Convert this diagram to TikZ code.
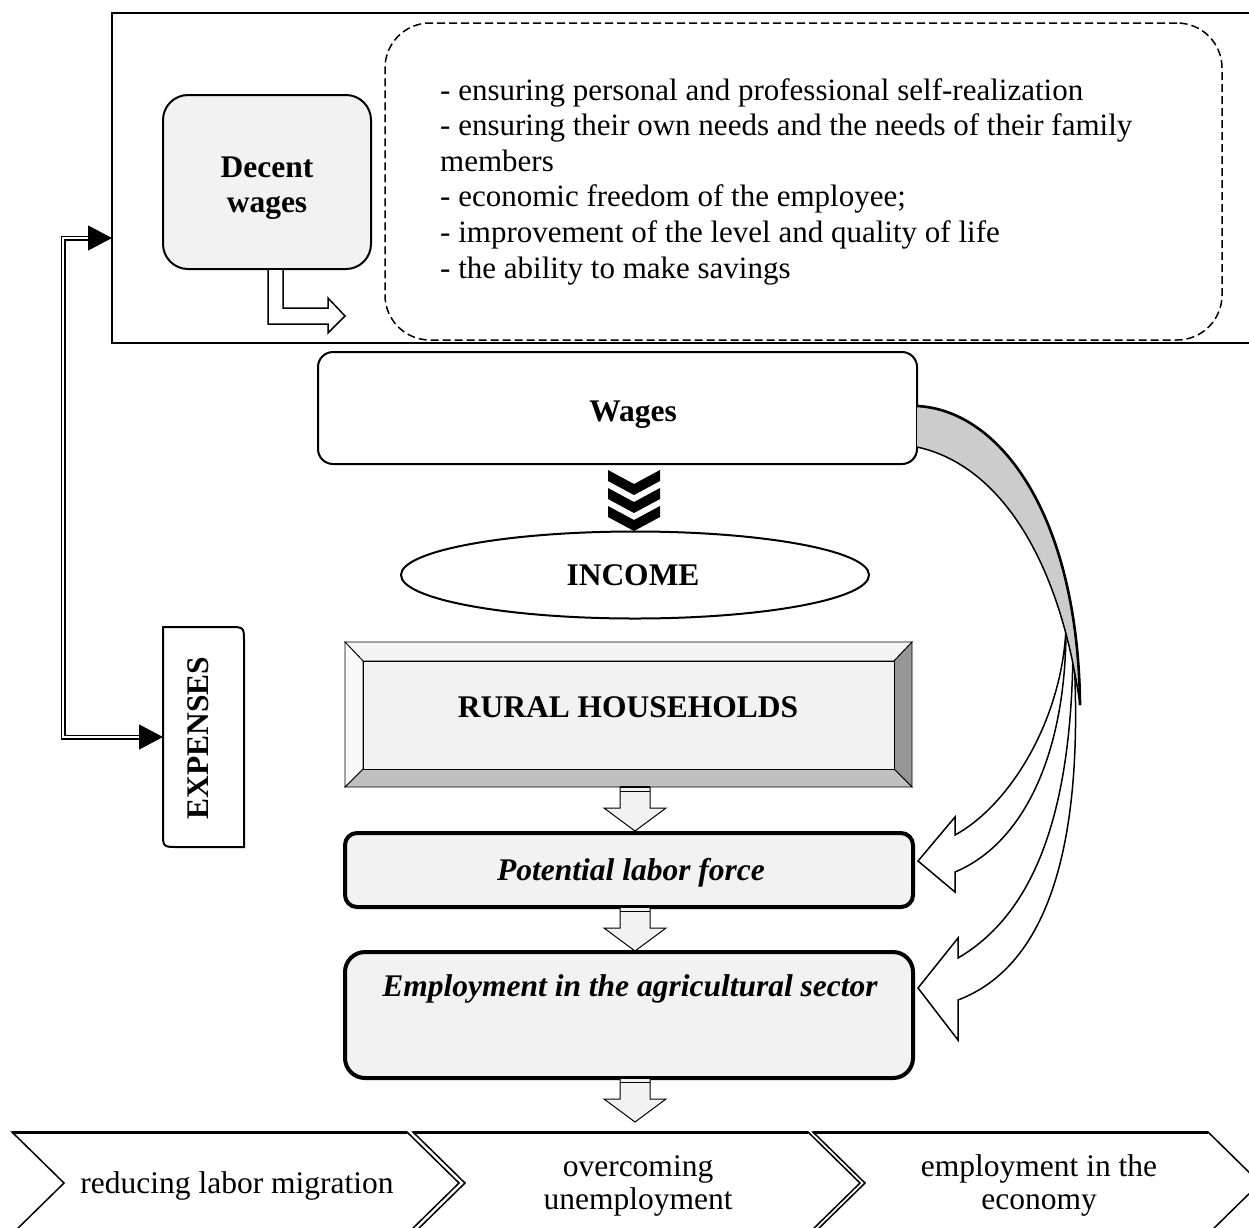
\documentclass[tikz,border=0pt]{standalone}
\usepackage{fontspec}
\setmainfont{Liberation Serif}
\usetikzlibrary{arrows.meta,shapes.geometric,calc}
\definecolor{panel}{HTML}{F2F2F2}
\definecolor{ribbon}{HTML}{CCCCCC}
\definecolor{bevtop}{HTML}{F4F4F4}
\definecolor{bevleft}{HTML}{F9F9F9}
\definecolor{bevright}{HTML}{969696}
\definecolor{bevbottom}{HTML}{C0C0C0}

\tikzset{
  txt/.style={font=\fontsize{31.5}{36}\selectfont, inner sep=0pt, anchor=base},
  btxt/.style={txt, font=\fontsize{31.5}{36}\selectfont\bfseries},
  bitxt/.style={txt, font=\fontsize{31.5}{36}\selectfont\bfseries\itshape},
  ltxt/.style={txt, font=\fontsize{31}{36}\selectfont, anchor=base west},
  frame/.style={inner sep=0pt, outer sep=0pt},
  panelbox/.style={frame, draw, line width=2pt, fill=panel, rounded corners=25pt},
  plainbox/.style={frame, draw, line width=2pt, fill=white, rounded corners=15pt},
  heavybox/.style={frame, draw, line width=4pt, fill=panel},
  hollow/.style={draw, line width=1.5pt, fill=white, line join=miter},
  dblock/.pic={
    \draw[line width=1pt, fill=panel] (-15,0) -- (-15,21) -- (-31,21) -- (0,44)
      -- (31,21) -- (15,21) -- (15,0) -- cycle;
    \draw[line width=1.4pt] (-15,0) -- (15,0);
    \draw[line width=0.8pt] (-15,4) -- (15,4);
  },
  chev/.pic={
    \foreach \k in {0,18,36}
      \fill (-26,\k) -- (0,\k+14) -- (26,\k) -- (26,\k+11) -- (0,\k+25) -- (-26,\k+11) -- cycle;
  }
}

\begin{document}
\begin{tikzpicture}[x=1pt,y=-1pt]
\useasboundingbox (0,0) rectangle (1249,1227);

% upper frame, open on the right
\draw[line width=2pt] (1262,13) -- (112,13) -- (112,343) -- (1262,343);
\coordinate (frameL) at (112,238);
\coordinate (axis) at (635,0);

% decent wages
\node[panelbox, minimum width=208pt, minimum height=174pt] (decent) at (267,182) {};
\node[btxt] (decent1) at (267,177) {Decent};
\node[btxt] (decent2) at (267,212) {wages};

% list of outcomes
\node[frame, draw, line width=1.5pt, dash pattern=on 8pt off 4pt, rounded corners=45pt,
      minimum width=837pt, minimum height=317pt] (list) at (803.5,181.5) {};
\node[ltxt] (item0) at (440,100.0) {- ensuring personal and professional self-realization};
\node[ltxt] (item1) at (440,135.6) {- ensuring their own needs and the needs of their family};
\node[ltxt] (item2) at (440,171.2) {members};
\node[ltxt] (item3) at (440,206.8) {- economic freedom of the employee;};
\node[ltxt] (item4) at (440,242.4) {- improvement of the level and quality of life};
\node[ltxt] (item5) at (440,278.0) {- the ability to make savings};

% bent hollow arrow from decent wages to the list
\draw[hollow] ([xshift=1pt]decent.south) -- ++(0,55) -- ++(60,0) -- ++(0,9) -- ++(17,-17)
  -- ++(-17,-18) -- ++(0,10) -- ++(-45,0) -- ++(0,-39) -- cycle;

% wages
\node[plainbox, minimum width=599pt, minimum height=112pt] (wages) at (617.5,408) {};
\node[btxt] (wagesT) at (633,421) {Wages};
\pic at ($(wages.south -| axis)+(-1,6)$) {chev};

% income
\node[frame, draw, ellipse, line width=2pt, fill=white, minimum width=468pt, minimum height=87pt] (income) at (635,575) {};
\node[btxt] (incomeT) at (633,585) {INCOME};

% rural households, bevelled panel
\node[frame, minimum width=567pt, minimum height=145pt] (rural) at (628.5,714.5) {};
\begin{scope}[line width=0.8pt]
  \draw[fill=bevtop] (345,642) -- (912,642) -- (894,661) -- (363,661) -- cycle;
  \draw[fill=bevright] (912,642) -- (912,787) -- (894,769) -- (894,661) -- cycle;
  \draw[fill=bevbottom] (345,787) -- (912,787) -- (894,769) -- (363,769) -- cycle;
  \draw[fill=bevleft] (345,642) -- (345,787) -- (363,769) -- (363,661) -- cycle;
  \draw[fill=panel] (363,661) rectangle (894,769);
\end{scope}
\node[btxt] (ruralT) at (628,717) {RURAL HOUSEHOLDS};

% labour force and employment
\node[heavybox, rounded corners=12pt, minimum width=568pt, minimum height=74pt] (plf) at (629,870) {};
\node[bitxt] (plfT) at (631,880) {Potential labor force};
\node[heavybox, rounded corners=20pt, minimum width=568pt, minimum height=126pt] (emp) at (629,1015) {};
\node[bitxt] (empT) at (630,996) {Employment in the agricultural sector};

\pic at (rural.south -| axis) {dblock};
\pic at (plf.south -| axis) {dblock};
\pic at (emp.south -| axis) {dblock};

% expenses
\node[frame, minimum width=81pt, minimum height=220pt] (exp) at (203.5,737) {};
\draw[line width=2pt, fill=white] (163,627) -- (229,627) .. controls (244,627) .. (244,642)
  -- (244,847) -- (178,847) .. controls (163,847) .. (163,832) -- cycle;
\node[btxt, rotate=90, anchor=center] (expT) at (198,738) {EXPENSES};

% double link between the frame and expenses
\draw[line width=1.2pt, double=white, double distance=2.6pt,
      {Triangle[length=24pt,width=25pt]}-{Triangle[length=24pt,width=25pt]}]
  (frameL) -- (63,238) |- (exp.west);

% curved arrows from wages
\coordinate (r1) at ($(wages.east)+(0,-2)$);
\coordinate (r2) at ($(wages.east)+(0,39)$);
\coordinate (tipA) at ($(plf.east)+(5,-9)$);
\coordinate (tipB) at ($(emp.east)+(5,-27)$);
\draw[hollow] (1073,640) .. controls (1073,800) and (1040,910) .. (958,958) -- (958,938)
  -- (tipB) -- (958,1040) -- (958,1000) .. controls (1050,965) and (1086,840) .. (1073,640) -- cycle;
\draw[hollow] (1066,628) .. controls (1062,720) and (1010,805) .. (955,835) -- (955,817)
  -- (tipA) -- (955,892) -- (955,872) .. controls (1020,845) and (1066,760) .. (1066,628) -- cycle;
\draw[line width=1.5pt, fill=ribbon] (r1) .. controls (1000,410) and (1078,515) .. (1080,705)
  .. controls (1060,560) and (1000,465) .. (r2);
\draw[line width=2.6pt] (r1) .. controls (1000,410) and (1078,515) .. (1080,705);

% outcome chevrons
\foreach \a in {12,413,813} {
  \draw[line width=1.5pt, fill=white] (\a,1132) -- (\a+395,1132) -- (\a+447,1183) -- (\a+395,1234)
    -- (\a,1234) -- (\a+52,1183) -- cycle;
  \draw[line width=3pt] (\a,1132) -- (\a+395,1132);
}
\node[txt] (mig) at (237,1193) {reducing labor migration};
\node[txt] (unemp1) at (638,1176) {overcoming};
\node[txt] (unemp2) at (638,1209) {unemployment};
\node[txt] (econ1) at (1039,1176) {employment in the};
\node[txt] (econ2) at (1039,1209) {economy};
\end{tikzpicture}
\end{document}
